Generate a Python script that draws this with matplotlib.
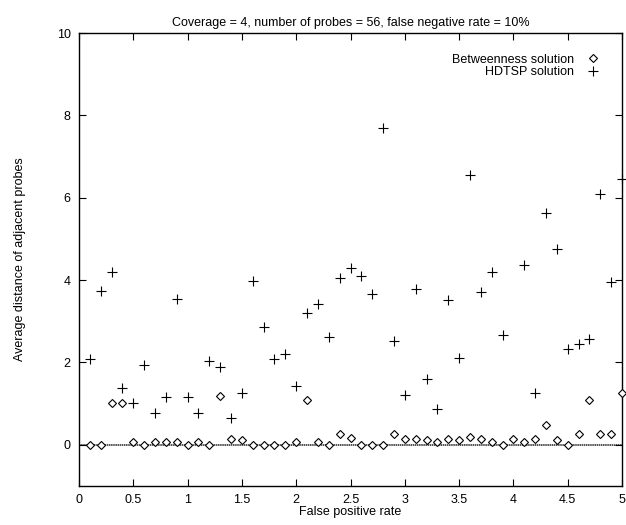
import numpy as np
import matplotlib
matplotlib.use("Agg")
import matplotlib.pyplot as plt

plt.rcParams['font.family'] = ['Liberation Sans', 'DejaVu Sans']

fp_rate = [0.1, 0.2, 0.3, 0.4, 0.5, 0.6, 0.7, 0.8, 0.9, 1.0,
           1.1, 1.2, 1.3, 1.4, 1.5, 1.6, 1.7, 1.8, 1.9, 2.0,
           2.1, 2.2, 2.3, 2.4, 2.5, 2.6, 2.7, 2.8, 2.9, 3.0,
           3.1, 3.2, 3.3, 3.4, 3.5, 3.6, 3.7, 3.8, 3.9, 4.0,
           4.1, 4.2, 4.3, 4.4, 4.5, 4.6, 4.7, 4.8, 4.9, 5.0]

betweenness = [0.0, 0.0, 1.01, 1.01, 0.065, 0.0, 0.065, 0.065, 0.065, 0.0,
               0.065, 0.0, 1.19, 0.14, 0.12, 0.0, 0.0, 0.0, 0.0, 0.065,
               1.09, 0.065, 0.0, 0.26, 0.17, 0.0, 0.0, 0.0, 0.26, 0.15,
               0.15, 0.11, 0.065, 0.15, 0.12, 0.18, 0.15, 0.065, 0.0, 0.15,
               0.065, 0.15, 0.48, 0.11, 0.0, 0.26, 1.09, 0.26, 0.26, 1.27]

hdtsp = [2.09, 3.73, 4.19, 1.38, 1.01, 1.94, 0.77, 1.17, 3.55, 1.17,
         0.77, 2.04, 1.89, 0.66, 1.27, 3.99, 2.87, 2.08, 2.20, 1.42,
         3.19, 3.41, 2.61, 4.06, 4.30, 4.10, 3.66, 7.70, 2.52, 1.20,
         3.78, 1.60, 0.87, 3.51, 2.11, 6.55, 3.72, 4.20, 2.66, np.nan,
         4.36, 1.27, 5.64, 4.75, 2.33, 2.44, 2.57, 6.08, 3.95, 6.46]

x_ticks = [0, 0.5, 1, 1.5, 2, 2.5, 3, 3.5, 4, 4.5, 5]
x_tick_labels = ['0', '0.5', '1', '1.5', '2', '2.5', '3', '3.5', '4', '4.5', '5']
y_ticks = [0, 2, 4, 6, 8, 10]

fig = plt.figure(figsize=(6.26, 5.25), dpi=100)
ax = fig.add_axes([79/626, 1 - 486/525, (622 - 79)/626, (486 - 33)/525])

ax.axhline(0, color='#222222', lw=1.1, linestyle=(0, (1, 0.4)), zorder=1)

ax.plot(fp_rate, betweenness, linestyle='none', marker='D', markersize=4,
        markerfacecolor='white', markeredgecolor='black', markeredgewidth=0.8,
        label='Betweenness solution', zorder=3, clip_on=False)
ax.plot(fp_rate, hdtsp, linestyle='none', marker='+', markersize=6.5,
        color='black', markeredgewidth=0.8, label='HDTSP solution', zorder=3,
        clip_on=False)

ax.set_xlim(0, 5)
ax.set_ylim(-1, 10)
ax.set_xticks(x_ticks)
ax.set_xticklabels(x_tick_labels)
ax.set_yticks(y_ticks)
ax.tick_params(direction='in', top=True, right=True, length=5, width=0.8,
               labelsize=9, pad=6)
for s in ax.spines.values():
    s.set_linewidth(1.0)

ax.set_title('Coverage = 4, number of probes = 56, false negative rate = 10%',
             fontsize=9, pad=5)
ax.set_xlabel('False positive rate', fontsize=9, labelpad=0)
ax.set_ylabel('Average distance of adjacent probes', fontsize=9, labelpad=22)

leg = ax.legend(loc='upper right', frameon=False, markerfirst=False,
                fontsize=9, handlelength=1.2, handletextpad=0.9,
                labelspacing=0.05, borderaxespad=0.9,
                bbox_to_anchor=(0.99, 0.99))
for t in leg.get_texts():
    t.set_ha('right')

fig.savefig('out.png', dpi=100)
